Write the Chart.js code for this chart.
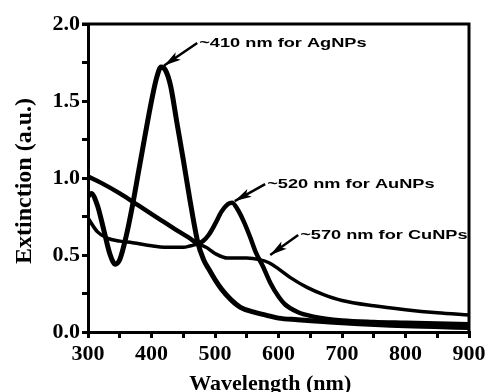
<!DOCTYPE html>
<html>
<head>
<meta charset="utf-8">
<script src="https://cdn.jsdelivr.net/npm/chart.js@4.4.1/dist/chart.umd.min.js"></script>
<style>
html, body { margin: 0; padding: 0; background: #fff; }
#wrap { width: 489px; height: 392px; }
</style>
</head>
<body>
<div id="wrap"><canvas id="canvas" width="489" height="392"></canvas></div>
<script>
"use strict"

// AgNPs spectrum
const agWl  = [300, 305, 315, 325, 335, 343, 350, 360, 370, 380, 390, 400, 408, 415, 422, 430, 440, 450, 460, 473, 482, 490, 500, 510, 525, 540, 560, 580, 600, 630, 700, 800, 900];
const agExt = [0.88, 0.90, 0.82, 0.66, 0.50, 0.44, 0.47, 0.62, 0.82, 1.05, 1.28, 1.50, 1.65, 1.72, 1.70, 1.60, 1.36, 1.12, 0.87, 0.58, 0.47, 0.41, 0.34, 0.28, 0.21, 0.16, 0.13, 0.11, 0.09, 0.08, 0.06, 0.04, 0.03];

// AuNPs spectrum
const auWl  = [300, 320, 350, 380, 410, 440, 460, 473, 481, 490, 500, 510, 520, 527, 535, 545, 555, 565, 575, 587, 600, 610, 630, 655, 700, 750, 800, 900];
const auExt = [1.01, 0.97, 0.90, 0.82, 0.74, 0.66, 0.61, 0.575, 0.59, 0.63, 0.70, 0.78, 0.83, 0.84, 0.80, 0.72, 0.62, 0.51, 0.43, 0.32, 0.23, 0.18, 0.13, 0.10, 0.075, 0.065, 0.06, 0.05];

// CuNPs spectrum
const cuWl  = [300, 315, 330, 350, 370, 400, 420, 450, 462, 473, 486, 500, 520, 550, 570, 585, 600, 620, 645, 670, 700, 750, 800, 850, 900];
const cuExt = [0.74, 0.65, 0.61, 0.59, 0.58, 0.56, 0.55, 0.55, 0.56, 0.57, 0.55, 0.51, 0.48, 0.48, 0.47, 0.45, 0.41, 0.35, 0.29, 0.245, 0.205, 0.17, 0.145, 0.125, 0.11];

const xTicks = [300, 400, 500, 600, 700, 800, 900];
const yTicks = [0.0, 0.5, 1.0, 1.5, 2.0];

// peak labels: tail where the text starts, head at the curve
const noteText = ['~410 nm for AgNPs', '~520 nm for AuNPs', '~570 nm for CuNPs'];
const noteTail = [[472, 1.877], [579, 0.96], [631, 0.63]];
const noteHead = [[420, 1.73], [531, 0.85], [587, 0.50]];

function pts(xs, ys) {
    return xs.map((x, i) => ({x: x, y: ys[i]}));
}

const serif = '"Liberation Serif", "Times New Roman", serif';
const sans = '"Liberation Sans", Arial, sans-serif';

const framePlugin = {
    id: 'frame',
    afterDatasetsDraw(chart) {
        const ctx = chart.ctx;
        const a = chart.chartArea;
        const xs = chart.scales.x, ys = chart.scales.y;
        ctx.save();
        ctx.strokeStyle = '#000';
        ctx.lineWidth = 3;
        ctx.beginPath();
        ctx.moveTo(a.left - 6, a.top);
        ctx.lineTo(a.right, a.top);
        ctx.lineTo(a.right, a.bottom);
        ctx.stroke();

        // arrows and labels
        for (let i = 0; i < noteText.length; i++) {
            const tx = xs.getPixelForValue(noteTail[i][0]);
            const ty = ys.getPixelForValue(noteTail[i][1]);
            const hx = xs.getPixelForValue(noteHead[i][0]);
            const hy = ys.getPixelForValue(noteHead[i][1]);
            const ang = Math.atan2(hy - ty, hx - tx);
            ctx.lineWidth = 2.5;
            ctx.beginPath();
            ctx.moveTo(tx, ty);
            ctx.lineTo(hx, hy);
            ctx.stroke();
            // arrow head
            ctx.save();
            ctx.translate(hx, hy);
            ctx.rotate(ang);
            ctx.fillStyle = '#000';
            ctx.beginPath();
            ctx.moveTo(0, 0);
            ctx.lineTo(-17, -4.5);
            ctx.lineTo(-13, 0);
            ctx.lineTo(-17, 4.5);
            ctx.closePath();
            ctx.fill();
            ctx.restore();

            ctx.save();
            ctx.translate(tx + 2, ty);
            ctx.scale(1.4, 1);
            ctx.font = 'bold 13px ' + sans;
            ctx.fillStyle = '#000';
            ctx.textBaseline = 'middle';
            ctx.textAlign = 'left';
            ctx.fillText(noteText[i], 0, 0);
            ctx.restore();
        }
        ctx.restore();
    }
};

function creaGrafico() {
    let ctx = document.getElementById('canvas').getContext('2d');
    const lineStyle = {
        borderColor: '#000',
        backgroundColor: '#000',
        pointRadius: 0,
        cubicInterpolationMode: 'monotone',
        fill: false
    };
    let myChart = new Chart(ctx, {
        type: 'line',
        data: {
            datasets: [
                Object.assign({label: 'AgNPs', data: pts(agWl, agExt), borderWidth: 5}, lineStyle),
                Object.assign({label: 'AuNPs', data: pts(auWl, auExt), borderWidth: 4.5}, lineStyle),
                Object.assign({label: 'CuNPs', data: pts(cuWl, cuExt), borderWidth: 3.5}, lineStyle)
            ]
        },
        options: {
            responsive: false,
            animation: false,
            devicePixelRatio: 1,
            layout: { padding: { top: 24, right: 20, left: 0, bottom: 0 } },
            plugins: { legend: { display: false }, tooltip: { enabled: false } },
            scales: {
                x: {
                    type: 'linear',
                    min: 300,
                    max: 900,
                    afterFit: s => { s.height = 60; },
                    ticks: {
                        stepSize: 50,
                        autoSkip: false,
                        maxRotation: 0,
                        padding: 3,
                        color: '#000',
                        font: { family: serif, size: 22, weight: 'bold' },
                        callback: v => xTicks.includes(v) ? String(v) : ''
                    },
                    grid: { drawOnChartArea: false, drawTicks: true, tickLength: 6, lineWidth: 3, color: '#000' },
                    border: { display: true, width: 3, color: '#000' },
                    title: {
                        display: true,
                        text: 'Wavelength (nm)   ',
                        color: '#000',
                        font: { family: serif, size: 22, weight: 'bold', lineHeight: 1 },
                        padding: { top: 0, bottom: -3 }
                    }
                },
                y: {
                    min: 0,
                    max: 2,
                    afterFit: s => { s.width = 88; },
                    ticks: {
                        stepSize: 0.25,
                        autoSkip: false,
                        padding: 2,
                        color: '#000',
                        font: { family: serif, size: 22, weight: 'bold' },
                        callback: v => yTicks.some(t => Math.abs(t - v) < 1e-6) ? v.toFixed(1) : ''
                    },
                    grid: { drawOnChartArea: false, drawTicks: true, tickLength: 6, lineWidth: 3, color: '#000' },
                    border: { display: true, width: 3, color: '#000' },
                    title: {
                        display: true,
                        text: 'Extinction (a.u.) ',
                        color: '#000',
                        font: { family: serif, size: 24, weight: 'bold' },
                        padding: { top: 10, bottom: 0 }
                    }
                }
            }
        },
        plugins: [framePlugin]
    });
}

creaGrafico();
</script>
</body>
</html>
